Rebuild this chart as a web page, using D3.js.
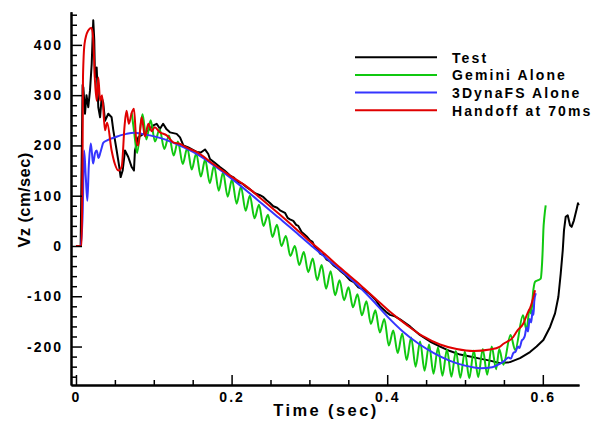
<!DOCTYPE html>
<html>
<head>
<meta charset="utf-8">
<script src="https://cdn.jsdelivr.net/npm/d3@7"></script>
<style>
  html, body { margin: 0; padding: 0; background: #fff; }
  svg { display: block; font-family: "Liberation Sans", Arial, sans-serif; font-weight: bold; }
</style>
</head>
<body>
<svg id="chart" width="602" height="422"></svg>
<script>
// ---------- data (time in sec, Vz in cm/sec) ----------
const seriesNames = ["Test", "Gemini Alone", "3DynaFS Alone", "Handoff at 70ms"];
const seriesColors = ["#000000", "#10c810", "#3535ff", "#e00000"];

const xMajorTicks = [0, 0.2, 0.4, 0.6];
const yMajorTicks = [-200, -100, 0, 100, 200, 300, 400];

const testData = [
  [0,0],[0.006,0],[0.0085,320],[0.0095,315],[0.0116,263],[0.0135,300],[0.0158,276],[0.018,309],
  [0.0202,362],[0.0222,449],[0.0235,410],[0.0244,335],[0.0266,355],[0.0287,276],[0.031,256],
  [0.033,296],[0.035,285],[0.0373,249],[0.0415,263],[0.0458,256],[0.048,230],[0.0523,190],
  [0.0557,157],[0.0574,137],[0.06,150],[0.063,190],[0.0672,177],[0.0716,157],[0.0745,150],
  [0.0758,190],[0.080,216],[0.0865,223],[0.093,230],[0.0994,240],[0.1037,243],[0.108,233],
  [0.112,243],[0.1165,232],[0.1208,226],[0.1294,223],[0.1337,216],[0.138,200],[0.1444,196],
  [0.155,187],[0.1605,186],[0.1658,192],[0.17,183],[0.1722,173],[0.178,166],[0.185,157],
  [0.191,150],[0.198,140],[0.203,136],[0.208,127],[0.214,124],[0.2194,117],[0.225,111],
  [0.23,105],[0.2365,101],[0.241,97],[0.245,91],[0.249,86],[0.2536,79],[0.2585,76],[0.2622,71],
  [0.2686,66],[0.272,56],[0.275,53],[0.2793,50],[0.283,42],[0.2857,40],[0.29,28],[0.293,24],
  [0.2965,19],[0.3008,11],[0.304,8],[0.3072,-3],[0.3105,-6],[0.3136,-15],[0.318,-18],
  [0.3222,-27],[0.326,-30],[0.3307,-38],[0.335,-43],[0.3393,-49],[0.345,-56],[0.352,-68],
  [0.357,-72],[0.3629,-82],[0.369,-86],[0.3779,-96],[0.385,-107],[0.3907,-120],[0.3985,-131],
  [0.4036,-137],[0.41,-140],[0.4165,-146],[0.4293,-160],[0.442,-177],[0.455,-190],[0.468,-200],
  [0.4807,-209],[0.4936,-216],[0.5064,-220],[0.519,-224],[0.532,-228],[0.545,-233],
  [0.5578,-231],[0.5707,-223],[0.5835,-211],[0.592,-200],[0.6007,-187],[0.6093,-161],
  [0.6157,-134],[0.62,-101],[0.623,-55],[0.6256,-9],[0.6272,31],[0.6294,58],[0.632,61],
  [0.635,41],[0.637,38],[0.64,51],[0.6436,74],[0.6452,85],[0.6462,81]
];

const geminiData = [
  [0.0716,265],[0.0745,230],[0.0785,185],[0.0855,262],[0.0905,212],[0.096,250],[0.1015,208],
  [0.1075,232],[0.1135,193],[0.1195,220],[0.1255,180],[0.131,208],[0.1372,163],[0.143,195],
  [0.1488,152],[0.1545,184],[0.1605,138],[0.166,172],[0.172,125],[0.1775,160],[0.1835,110],
  [0.189,146],[0.195,98],[0.2005,132],[0.2065,84],[0.212,118],[0.218,70],[0.2235,100],
  [0.2295,55],[0.2352,82],[0.241,40],[0.2468,62],[0.2525,18],[0.2583,42],[0.264,0],
  [0.2698,20],[0.2755,-20],[0.2813,0],[0.287,-38],[0.2928,-12],[0.2985,-52],[0.3043,-25],
  [0.31,-68],[0.3158,-38],[0.3215,-85],[0.3273,-50],[0.333,-98],[0.3388,-68],[0.3445,-108],
  [0.3503,-82],[0.356,-122],[0.3618,-96],[0.3675,-138],[0.3733,-110],[0.379,-155],
  [0.3848,-128],[0.3905,-172],[0.3963,-145],[0.402,-198],[0.4078,-168],[0.4135,-213],
  [0.4193,-174],[0.425,-227],[0.4308,-182],[0.4365,-240],[0.4423,-190],[0.448,-248],
  [0.4538,-196],[0.4595,-254],[0.4653,-202],[0.471,-258],[0.4768,-206],[0.4825,-260],
  [0.4883,-209],[0.494,-262],[0.4998,-210],[0.5055,-263],[0.5113,-208],[0.517,-261],
  [0.5228,-205],[0.5285,-256],[0.5343,-200],[0.540,-245],[0.544,-205],[0.5493,-236],
  [0.5585,-177],[0.5645,-207],[0.5745,-138],[0.579,-167],[0.583,-125],[0.585,-135],
  [0.5878,-88],[0.590,-71],[0.594,-68],[0.5973,-65],[0.5985,-48],[0.5998,-9],[0.6007,31],
  [0.602,58],[0.6037,81]
];

const dynaData = [
  [0,0],[0.006,0],[0.0085,60],[0.0105,190],[0.0125,140],[0.0146,90],[0.0165,160],[0.019,204],
  [0.0205,185],[0.022,164],[0.0245,185],[0.0266,190],[0.029,175],[0.031,184],[0.033,195],
  [0.035,205],[0.040,210],[0.044,213],[0.05,216],[0.057,220],[0.065,223],[0.075,225],
  [0.085,223],[0.095,220],[0.11,214],[0.13,202],[0.155,183],[0.18,157],[0.20,134],[0.22,109],
  [0.24,83],[0.26,57],[0.28,31],[0.30,4],[0.32,-22],[0.34,-48],[0.36,-75],[0.38,-106],
  [0.40,-140],[0.42,-170],[0.44,-194],[0.46,-213],[0.48,-228],[0.50,-238],[0.52,-243],
  [0.535,-241],[0.545,-234],[0.55,-229],[0.556,-222],[0.559,-224],[0.562,-213],[0.565,-210],
  [0.568,-200],[0.570,-203],[0.573,-188],[0.575,-185],[0.577,-178],[0.579,-162],[0.581,-170],
  [0.583,-145],[0.585,-152],[0.587,-128],[0.588,-137],[0.589,-110],[0.591,-94]
];

const handoffData = [
  [0,0],[0.0072,0],[0.008,100],[0.0085,190],[0.009,335],[0.011,402],[0.0155,428],[0.0198,434],
  [0.022,415],[0.0244,329],[0.0266,289],[0.0287,335],[0.031,289],[0.0335,300],[0.0373,230],
  [0.040,245],[0.0458,190],[0.050,163],[0.0545,150],[0.0587,157],[0.0625,240],[0.065,269],
  [0.068,243],[0.0716,265],[0.0745,273],[0.0775,210],[0.080,200],[0.083,240],[0.0844,256],
  [0.0887,218],[0.093,243],[0.0973,228],[0.101,236],[0.108,226],[0.1166,220],[0.125,206],
  [0.1337,203],[0.142,196],[0.155,187],[0.1765,163],[0.198,140],[0.2194,118],[0.2365,96],
  [0.26,65],[0.28,38],[0.30,10],[0.322,-19],[0.34,-44],[0.365,-77],[0.3843,-104],
  [0.4036,-131],[0.425,-157],[0.4464,-180],[0.4679,-196],[0.4893,-205],[0.5107,-209],
  [0.532,-206],[0.545,-200],[0.549,-195],[0.562,-181],[0.5665,-170],[0.575,-154],
  [0.5814,-130],[0.5835,-124],[0.59,-88]
];

const allSeries = [testData, geminiData, dynaData, handoffData];
const seriesCurves = [d3.curveLinear, d3.curveMonotoneX, d3.curveMonotoneX, d3.curveMonotoneX];

// ---------- chart ----------
const svg = d3.select("#chart");
const x = d3.scaleLinear().domain([-0.0064, 0.6465]).range([71, 579]);
const y = d3.scaleLinear().domain([-276.5, 466]).range([385, 11.7]);

const plot = svg.append("g");
allSeries.forEach((data, i) => {
  const line = d3.line().curve(seriesCurves[i]).x(d => x(d[0])).y(d => y(d[1]));
  plot.append("path")
    .datum(data)
    .attr("fill", "none")
    .attr("stroke", seriesColors[i])
    .attr("stroke-width", 2)
    .attr("stroke-linejoin", "round")
    .attr("d", line);
});

// minor ticks
const xMinor = d3.range(0, 0.6466, 0.05).filter(v => !xMajorTicks.some(m => Math.abs(m - v) < 1e-6));
const yMinor = d3.range(-260, 466, 20).filter(v => v % 100 !== 0);

const axisStyle = g => {
  g.selectAll("path.domain").attr("stroke", "#000").attr("stroke-width", 2);
  g.selectAll(".tick line").attr("stroke", "#000").attr("stroke-width", 1.5);
  g.selectAll("text")
    .attr("fill", "#000")
    .style("font-size", "14px")
    .style("font-weight", "bold")
    .style("letter-spacing", "2px")
    .style("font-family", "'Liberation Sans', Arial, sans-serif");
};

svg.append("g").attr("transform", "translate(0,385)")
  .call(d3.axisBottom(x).tickValues(xMinor).tickSize(-5).tickSizeOuter(0).tickFormat(""))
  .call(axisStyle);
svg.append("g").attr("transform", "translate(0,385)")
  .call(d3.axisBottom(x).tickValues(xMajorTicks).tickSize(-10).tickSizeOuter(0).tickPadding(7)
    .tickFormat(d => d === 0 ? "0" : d.toFixed(1)))
  .call(axisStyle);

svg.append("g").attr("transform", "translate(71,0)")
  .call(d3.axisLeft(y).tickValues(yMinor).tickSize(-6).tickSizeOuter(0).tickFormat(""))
  .call(axisStyle);
svg.append("g").attr("transform", "translate(71,0)")
  .call(d3.axisLeft(y).tickValues(yMajorTicks).tickSize(-11).tickSizeOuter(0).tickPadding(8)
    .tickFormat(d => String(d)))
  .call(axisStyle);

// axis titles
svg.append("text")
  .attr("x", 326).attr("y", 416)
  .attr("text-anchor", "middle")
  .style("font-size", "16.5px").style("letter-spacing", "2.4px")
  .text("Time (sec)");

svg.append("text")
  .attr("transform", "translate(30,200) rotate(-90)")
  .attr("text-anchor", "middle")
  .style("font-size", "16.5px").style("letter-spacing", "0.4px")
  .text("Vz (cm/sec)");

// legend
const legend = svg.append("g");
seriesNames.forEach((name, i) => {
  const ly = 57.3 + i * 17.65;
  legend.append("line")
    .attr("x1", 355).attr("x2", 437).attr("y1", ly).attr("y2", ly)
    .attr("stroke", seriesColors[i]).attr("stroke-width", 2);
  legend.append("text")
    .attr("x", 452).attr("y", ly + 5.5)
    .style("font-size", "14px").style("letter-spacing", "2.1px")
    .text(name);
});
</script>
</body>
</html>
